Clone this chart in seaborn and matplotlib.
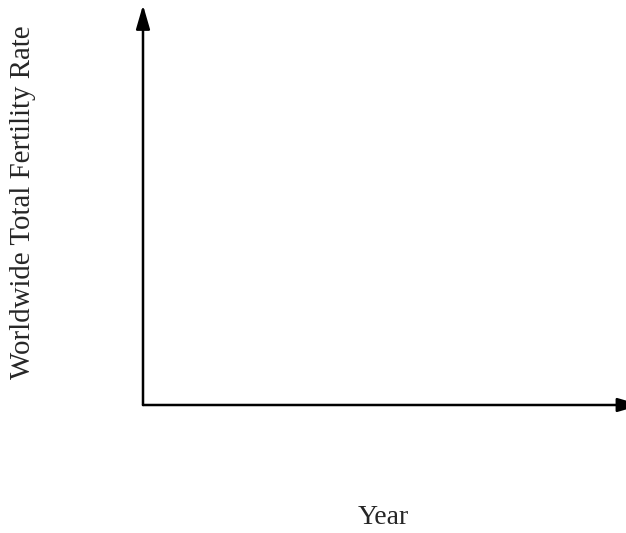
import matplotlib
matplotlib.use("Agg")
import matplotlib.pyplot as plt
import seaborn as sns

# empty sketch axes: no data series, only labels
x_label = "Year"
y_label = "Worldwide Total Fertility Rate"

sns.set_style("white")
plt.rcParams["font.family"] = ["Liberation Serif", "DejaVu Serif"]

fig = plt.figure(figsize=(6.26, 5.33), dpi=100)
ax = fig.add_axes([143 / 626, 128 / 533, 483 / 626, 400 / 533])

sns.despine(ax=ax, left=True, bottom=True)
ax.set_xticks([])
ax.set_yticks([])
ax.set_xlim(0, 1)
ax.set_ylim(0, 1)

# axes drawn as arrows
arrow = dict(arrowstyle="-|>,head_length=1.45,head_width=0.42",
             mutation_scale=10, lw=1.8, color="black",
             shrinkA=0, shrinkB=0)
ax.annotate("", xy=(0, 1), xytext=(0, 0), xycoords="axes fraction",
            arrowprops=arrow, annotation_clip=False)
ax.annotate("", xy=(1.032, 0), xytext=(0, 0), xycoords="axes fraction",
            arrowprops=arrow, annotation_clip=False)

ax.set_xlabel(x_label, fontsize=20)
ax.set_ylabel(y_label, fontsize=20.8)
ax.xaxis.set_label_coords(0.497, -0.25)
ax.yaxis.set_label_coords(-0.222, 0.5075)

fig.savefig("out.png", dpi=100)
